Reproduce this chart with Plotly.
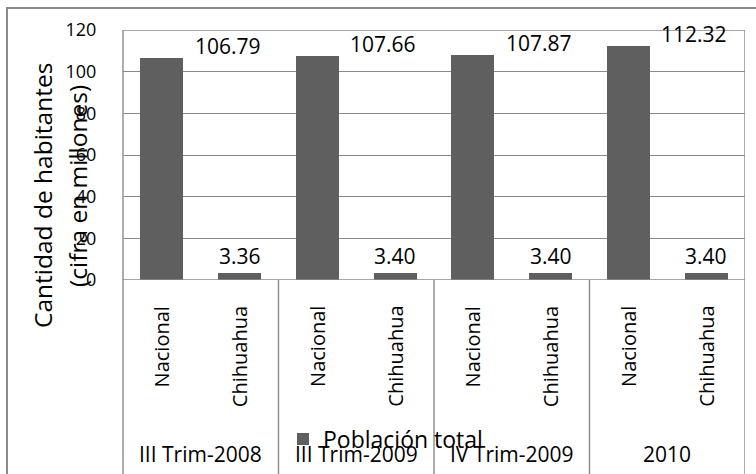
import plotly.graph_objects as go

# ---- data ----
groups = ["III Trim-2008", "III Trim-2009", "IV Trim-2009", "2010"]
regions = ["Nacional", "Chihuahua"]
nacional = [106.79, 107.66, 107.87, 112.32]
chihuahua = [3.36, 3.40, 3.40, 3.40]
series_name = "Población total"
y_ticks = [0, 20, 40, 60, 80, 100, 120]

# ---- geometry helpers (figure pixels -> paper coords) ----
W, H = 756, 474
ML, MR, MT, MB = 123, 11, 30, 194
PW, PH = W - ML - MR, H - MT - MB


def px_x(px):
    return (px - ML) / PW


def px_y(py):
    return (H - MB - py) / PH


FONT = "Open Sans"
BAR = "#5f5f5f"
GRID = "#8a8a8a"
LW = 1.4

xs, ys, cats = [], [], []
for g, (n, c) in enumerate(zip(nacional, chihuahua)):
    xs += [2 * g, 2 * g + 1]
    ys += [n, c]
    cats += regions

fig = go.Figure()
fig.add_trace(go.Bar(
    x=xs, y=ys, width=0.55, name=series_name,
    marker=dict(color=BAR, line=dict(width=0)),
    showlegend=True, hoverinfo="skip",
))

ann = []
# value labels
for g, (n, c) in enumerate(zip(nacional, chihuahua)):
    ann.append(dict(x=2 * g, y=n, xref="x", yref="y", text=f"{n:.2f}",
                    showarrow=False, xshift=66, yshift=12,
                    font=dict(family=FONT, size=21, color="#000"),
                    xanchor="center", yanchor="middle"))
    ann.append(dict(x=2 * g + 1, y=c, xref="x", yref="y", text=f"{c:.2f}",
                    showarrow=False, yshift=17,
                    font=dict(family=FONT, size=21, color="#000"),
                    xanchor="center", yanchor="middle"))
# inner category labels (rotated)
for xi, cat in zip(xs, cats):
    ann.append(dict(x=xi, y=px_y(304), xref="x", yref="paper", text=cat,
                    textangle=-90, showarrow=False, xanchor="center",
                    yanchor="top", font=dict(family=FONT, size=20, color="#000")))
# outer group labels
for g, name in enumerate(groups):
    ann.append(dict(x=2 * g + 0.5, y=px_y(454), xref="x", yref="paper",
                    text=name, showarrow=False, xanchor="center",
                    yanchor="middle", font=dict(family=FONT, size=21, color="#000")))
# y-axis title (two lines)
ann.append(dict(x=px_x(43), y=px_y(196), xref="paper", yref="paper",
                text="Cantidad de habitantes", textangle=-90, showarrow=False,
                xanchor="center", yanchor="middle",
                font=dict(family=FONT, size=24.5, color="#000")))
ann.append(dict(x=px_x(77), y=px_y(186), xref="paper", yref="paper",
                text="(cifra en millones)", textangle=-90, showarrow=False,
                xanchor="center", yanchor="middle",
                font=dict(family=FONT, size=24.5, color="#000")))

shapes = []
line_style = dict(color=GRID, width=LW)
# top border (120) and baseline (0) of the plot area
for t in (y_ticks[0], y_ticks[-1]):
    shapes.append(dict(type="line", xref="paper", yref="y", x0=0, x1=1,
                       y0=t, y1=t, line=line_style, layer="above"))
# left axis line down through category area
shapes.append(dict(type="line", xref="paper", yref="paper", x0=0, x1=0,
                   y0=px_y(H), y1=1, line=line_style))
# group separators and right border
for b in [1.5, 3.5, 5.5, 7.5]:
    shapes.append(dict(type="line", xref="x", yref="paper", x0=b, x1=b,
                       y0=px_y(H), y1=0 if b < 7.5 else 1, line=line_style))
# outer chart border (left + top)
shapes.append(dict(type="path", xref="paper", yref="paper",
                   path=f"M {px_x(7)},{px_y(H + 5)} L {px_x(7)},{px_y(8)} L {px_x(W + 5)},{px_y(8)}",
                   line=dict(color=GRID, width=2)))

fig.update_layout(
    width=W, height=H,
    margin=dict(l=ML, r=MR, t=MT, b=MB),
    paper_bgcolor="white", plot_bgcolor="white",
    font=dict(family=FONT, color="#000"),
    xaxis=dict(range=[-0.5, 7.5], showticklabels=False, showgrid=False,
               zeroline=False, showline=False, ticks=""),
    yaxis=dict(range=[0, 120], tickvals=y_ticks, showgrid=True,
               gridcolor=GRID, gridwidth=LW, zeroline=False, showline=False,
               ticks="outside", ticklen=22, tickcolor="rgba(0,0,0,0)",
               tickfont=dict(family=FONT, size=18, color="#000")),
    bargap=0,
    showlegend=True,
    legend=dict(orientation="h", x=px_x(283), y=px_y(439), xanchor="left",
                yanchor="middle", bgcolor="rgba(0,0,0,0)",
                font=dict(family=FONT, size=23, color="#000"),
                itemclick=False, itemdoubleclick=False),
    annotations=ann,
    shapes=shapes,
)

fig.write_html("out.html")
